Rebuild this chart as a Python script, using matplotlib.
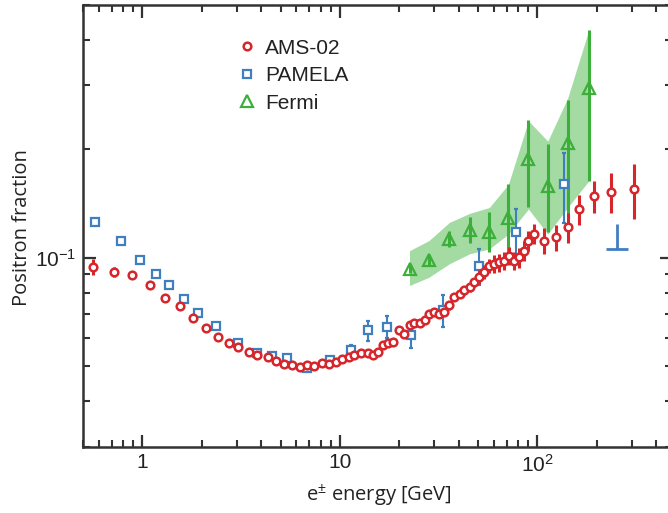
import matplotlib
matplotlib.use("Agg")
import matplotlib.pyplot as plt
from matplotlib.ticker import LogLocator, FixedLocator, FixedFormatter, NullFormatter
from matplotlib.lines import Line2D
import numpy as np

# ---------------- data ----------------
ams_E = [0.563, 0.719, 0.890, 1.089, 1.30, 1.55, 1.81, 2.11, 2.40, 2.75, 3.06, 3.47,
         3.82, 4.30, 4.73, 5.22, 5.70, 6.26, 6.84, 7.40, 8.09, 8.81, 9.52,
         10.3, 11.1, 11.8, 12.8, 13.8, 14.7, 15.5, 16.5, 17.5, 18.5,
         20.0, 21.2, 22.5, 23.8, 25.3, 26.8, 28.4, 30.1, 31.9, 33.8,
         35.8, 38.0, 40.3, 42.7, 45.3, 48.0,
         50.8, 53.4, 57.1,
         60.5, 64.2, 68.0, 72.1, 76.5,
         81.1, 85.0, 90.0, 96.6,
         108.4, 124, 143.5, 163, 193, 236, 310]
ams_F = [0.0940, 0.0911, 0.0892, 0.0837, 0.0774, 0.0733, 0.0682, 0.0640, 0.0603, 0.0581, 0.0566, 0.0549,
         0.0537, 0.0531, 0.0517, 0.0509, 0.0504, 0.0499, 0.0504, 0.0501, 0.0512, 0.0509, 0.0513,
         0.0523, 0.0531, 0.0537, 0.0545, 0.0545, 0.0537, 0.0549, 0.0573, 0.0579, 0.0585,
         0.0629, 0.0616, 0.0650, 0.0657, 0.0657, 0.0671, 0.0700, 0.0707, 0.0700, 0.0707,
         0.0738, 0.0778, 0.0794, 0.0811, 0.0828, 0.0855,
         0.0883, 0.0911, 0.0950,
         0.0961, 0.0970, 0.0981, 0.1013, 0.0981,
         0.1002, 0.1045, 0.1114, 0.1162,
         0.1114, 0.1137, 0.1212, 0.1362, 0.148, 0.152, 0.1546]
ams_err = [0.0048, 0.0029, 0.0017, 0.0011, 0.0010, 0.0009, 0.0009, 0.0008, 0.0008, 0.0007, 0.0007, 0.0007,
           0.0007, 0.0007, 0.0007, 0.0006, 0.0006, 0.0006, 0.0006, 0.0006, 0.0007, 0.0006, 0.0007,
           0.0008, 0.0008, 0.0009, 0.0009, 0.0009, 0.0009, 0.0009, 0.0009, 0.0009, 0.0009,
           0.0014, 0.0014, 0.0014, 0.0015, 0.0015, 0.0015, 0.0016, 0.0016, 0.0016, 0.0016,
           0.0021, 0.0022, 0.0023, 0.0023, 0.0024, 0.0025,
           0.0039, 0.0041, 0.0042,
           0.0055, 0.0056, 0.0056, 0.0058, 0.0056,
           0.0064, 0.0067, 0.0071, 0.0074,
           0.0092, 0.0094, 0.0116, 0.0130, 0.0151, 0.0194, 0.0266]

pam_E = [0.576, 0.777, 0.973, 1.177, 1.365, 1.626, 1.91, 2.35, 3.03, 3.82, 4.55, 5.42,
         6.84, 8.88, 11.4, 13.8, 17.3, 22.9, 33.2, 50.5, 78, 136]
pam_F = [0.1256, 0.1114, 0.0987, 0.0898, 0.0837, 0.0769, 0.0704, 0.0647, 0.0581, 0.0543, 0.0534, 0.0526,
         0.0494, 0.0520, 0.0554, 0.0629, 0.0643, 0.0610, 0.0715, 0.0950, 0.118, 0.1596]
pam_err = [0, 0, 0, 0, 0, 0, 0, 0, 0, 0, 0, 0,
           0, 0.0010, 0.0018, 0.0040, 0.0045, 0.0047, 0.0073, 0.0109, 0.0181, 0.0350]
pam_lim_E = 253
pam_lim_lo = 0.1057
pam_lim_hi = 0.124

fermi_E = [22.5, 28.2, 35.8, 45.3, 57.1, 71.3, 90.0, 112.8, 142.3, 182]
fermi_F = [0.0931, 0.0985, 0.1126, 0.1192, 0.118, 0.129, 0.187, 0.158, 0.208, 0.294]
fermi_err_lo = [0.0024, 0.0032, 0.0056, 0.0095, 0.0141, 0.0269, 0.0494, 0.0401, 0.0790, 0.1316]
fermi_err_hi = [0.0024, 0.0032, 0.0059, 0.0103, 0.0161, 0.0312, 0.0527, 0.0486, 0.0656, 0.1316]
fermi_band_lo = [0.0837, 0.0882, 0.0961, 0.1024, 0.1057, 0.1162, 0.1362, 0.1162, 0.1376, 0.163]
fermi_band_hi = [0.1045, 0.1114, 0.1251, 0.1325, 0.1376, 0.1596, 0.239, 0.210, 0.2765, 0.4266]

x_ticks = [1, 10, 100]
x_tick_labels = ["1", "10", r"$10^{2}$"]
y_ticks = [0.1]
y_tick_labels = [r"$10^{-1}$"]

# ---------------- style ----------------
RED = "#d7262b"
BLUE = "#3f7fc0"
GREEN = "#3cae3a"
BAND = "#93d593"
AX = "#333333"

plt.rcParams["font.family"] = ["Liberation Sans", "DejaVu Sans"]
plt.rcParams["mathtext.fontset"] = "custom"
plt.rcParams["mathtext.rm"] = "Liberation Sans"
plt.rcParams["mathtext.it"] = "Liberation Sans:italic"
plt.rcParams["mathtext.bf"] = "Liberation Sans:bold"

fig = plt.figure(figsize=(6.68, 5.13), dpi=100)
W, H = 668, 513
left_px, right_px, top_px, bot_px = 83, 672, 5, 446.5
ax = fig.add_axes([left_px / W, 1 - bot_px / H, (right_px - left_px) / W, (bot_px - top_px) / H])

ax.set_xscale("log")
ax.set_yscale("log")
ax.set_xlim(0.5, 480)
ax.set_ylim(0.03, 0.5)

# Fermi systematic band
ax.fill_between(fermi_E, fermi_band_lo, fermi_band_hi, color=BAND, alpha=0.85, lw=0, zorder=1)

# Fermi
ax.errorbar(fermi_E, fermi_F, yerr=[fermi_err_lo, fermi_err_hi], fmt="^", color=GREEN,
            mfc="none", mec=GREEN, ms=8, mew=1.6, elinewidth=2.2, capsize=0, zorder=3)

# PAMELA
ax.errorbar(pam_E, pam_F, yerr=pam_err, fmt="s", color=BLUE, mfc="white", mec=BLUE,
            ms=5.5, mew=1.6, elinewidth=1.5, capsize=1.5, capthick=1.5, zorder=4)
ax.vlines([pam_lim_E], [pam_lim_lo], [pam_lim_hi], color=BLUE, lw=2, zorder=4)
ax.plot([pam_lim_E], [pam_lim_lo], marker="_", ms=16, mew=2, color=BLUE, ls="none", zorder=4)

# AMS-02
ax.errorbar(ams_E, ams_F, yerr=ams_err, fmt="o", color=RED, mfc="white", mec=RED,
            ms=5.5, mew=1.8, elinewidth=2.2, capsize=0, zorder=5)

# axes styling
for s in ax.spines.values():
    s.set_linewidth(1.8)
    s.set_color(AX)
ax.xaxis.set_major_locator(FixedLocator(x_ticks))
ax.xaxis.set_major_formatter(FixedFormatter(x_tick_labels))
ax.xaxis.set_minor_locator(LogLocator(base=10, subs=np.arange(2, 10), numticks=20))
ax.xaxis.set_minor_formatter(NullFormatter())
ax.yaxis.set_major_locator(FixedLocator(y_ticks))
ax.yaxis.set_major_formatter(FixedFormatter(y_tick_labels))
ax.yaxis.set_minor_locator(LogLocator(base=10, subs=np.arange(2, 10), numticks=20))
ax.yaxis.set_minor_formatter(NullFormatter())
ax.tick_params(which="both", direction="in", top=True, right=True, color=AX,
               labelsize=15, labelcolor="#222222")
ax.tick_params(which="major", length=9, width=1.6, pad=5)
ax.tick_params(which="minor", length=5, width=1.5)

ax.set_xlabel("e$^{\\pm}$ energy [GeV]", fontsize=14.5, family=["Open Sans", "DejaVu Sans"],
              color="#222222", va="center")
ax.set_ylabel("Positron fraction", fontsize=14.5, family=["Open Sans", "DejaVu Sans"],
              color="#222222", va="center")
ax.xaxis.set_label_coords((379 - left_px) / (right_px - left_px), (bot_px - 496) / (bot_px - top_px))
ax.yaxis.set_label_coords((22 - left_px) / (right_px - left_px), (bot_px - 228) / (bot_px - top_px))

# legend
handles = [
    Line2D([], [], marker="o", ls="none", mfc="white", mec=RED, ms=5.5, mew=1.8),
    Line2D([], [], marker="s", ls="none", mfc="white", mec=BLUE, ms=5.5, mew=1.6),
    Line2D([], [], marker="^", ls="none", mfc="none", mec=GREEN, ms=8, mew=1.6),
]
leg = ax.legend(handles, ["AMS-02", "PAMELA", "Fermi"], loc="upper left",
                bbox_to_anchor=(236.6 / W, 1 - 38.5 / H), bbox_transform=fig.transFigure,
                frameon=False, fontsize=15, handlelength=1.0, handletextpad=0.365,
                labelspacing=0.41, borderpad=0, borderaxespad=0)
for t in leg.get_texts():
    t.set_color("#222222")

fig.savefig("out.png", dpi=100)
